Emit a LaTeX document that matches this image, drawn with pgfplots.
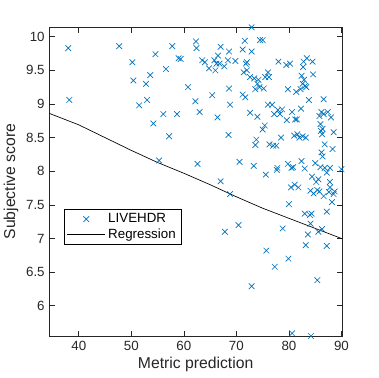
\documentclass[border=0pt]{standalone}
\usepackage{pgfplots}
\pgfplotsset{compat=1.18}
\usepackage{fontspec}
\setmainfont{Liberation Sans}
\definecolor{mblue}{rgb}{0,0.447,0.741}
\definecolor{axgray}{rgb}{0.15,0.15,0.15}
\begin{document}
\begin{tikzpicture}
\path[use as bounding box] (-37pt,-31.5pt) rectangle (246.5pt,252pt);
\begin{axis}[
  at={(0,0)}, anchor=south west,
  scale only axis, width=219.5pt, height=231.5pt,
  xmin=34.4, xmax=90.1, ymin=5.55, ymax=10.14,
  xtick={40,50,...,90},
  ytick={6,6.5,...,10},
  tick align=inside, tick pos=both,
  major tick length=4pt,
  axis line style={axgray, line width=0.5pt},
  tick style={axgray, line width=0.5pt},
  every tick label/.append style={font=\fontsize{10}{12}\selectfont, text=axgray},
  /pgf/number format/assume math mode=true,
  xlabel={Metric prediction}, ylabel={Subjective score},
  label style={font=\fontsize{11.8}{13}\selectfont, text=axgray},
  xlabel style={yshift=2pt},
  ylabel style={yshift=-1pt},
  legend style={at={(0.05,0.411)}, anchor=north west, draw=black, line width=0.5pt,
    font=\fontsize{10}{11}\selectfont, inner xsep=2pt, inner ysep=1pt, row sep=-1pt},
  legend cell align=left,
  legend image code/.code={\draw[mark repeat=2,mark phase=2,#1] plot coordinates {(0cm,0cm) (0.5cm,0cm) (1cm,0cm)};},
]
\addplot[only marks, mark=x, mark size=3pt, color=mblue, line width=0.5pt] coordinates {
(38,9.83) (38.2,9.06) (47.7,9.86) (50.2,9.62) (50.4,9.35) (51.5,8.98) (52.8,9.30)
(53.0,9.06) (53.6,9.43) (54.2,8.71) (54.6,9.74) (55.3,8.16) (56.1,8.85) (56.6,9.52)
(57.2,8.52) (57.8,9.86) (58.7,8.85) (59.0,9.68) (59.4,9.67) (60.8,9.25) (62.2,9.04)
(62.3,9.93) (62.4,9.83) (62.6,8.11) (63.0,8.88) (63.5,9.65) (64.0,9.62) (64.8,9.53)
(65.4,9.13) (65.8,9.65) (66.0,9.50) (66.2,9.60) (66.4,8.80) (66.5,9.72) (66.8,9.60)
(67.0,9.85) (67.0,7.85) (67.7,9.56) (67.8,7.10) (68.4,9.65) (68.5,8.54) (68.6,9.78)
(68.6,9.23) (68.8,8.99) (68.8,7.66) (69.8,9.64) (70.4,7.20) (70.6,8.14) (71.2,9.14)
(71.2,9.81) (71.4,9.47) (71.6,9.94) (71.7,9.10) (71.8,9.60) (72.0,9.62) (72.0,9.50)
(72.6,9.40) (72.6,8.87) (72.9,10.14) (72.9,9.78) (72.9,6.29) (73.3,8.08) (73.4,9.38)
(73.6,9.22) (73.6,8.39) (73.8,8.47) (74.0,9.30) (74.0,8.81) (74.2,9.36) (74.4,9.25)
(74.5,9.95) (75.0,9.95) (75.0,8.62) (75.2,9.23) (75.4,8.68) (75.5,9.40) (75.6,7.95)
(75.7,6.82) (76.0,9.47) (76.0,8.99) (76.2,9.40) (76.3,8.40) (76.8,8.99) (77.0,8.38)
(77.2,8.85) (77.3,6.58) (77.6,8.38) (77.7,8.02) (77.8,8.05) (77.9,8.91) (78.0,9.63)
(78.3,8.85) (78.5,8.50) (78.7,8.92) (78.8,7.15) (79.5,9.58) (79.6,8.76) (79.8,9.22)
(79.8,8.11) (79.9,6.70) (80.0,7.51) (80.2,9.60) (80.4,7.76) (80.5,8.05) (80.6,8.88)
(80.6,5.59) (80.8,8.06) (81.0,8.53) (81.1,7.80) (81.2,8.77) (81.4,9.18) (81.5,8.77)
(81.6,8.55) (81.8,7.76) (82.0,8.50) (82.2,9.22) (82.3,8.93) (82.4,8.15) (82.4,9.42)
(82.6,8.52) (82.6,9.30) (82.7,9.55) (82.8,9.63) (82.9,9.36) (83.0,8.04) (83.0,7.37)
(83.1,9.27) (83.2,8.50) (83.2,6.90) (83.3,9.25) (83.4,9.68) (83.6,7.06) (83.8,9.06)
(84.0,7.35) (84.1,7.71) (84.1,7.22) (84.2,5.55) (84.3,7.37) (84.4,7.92) (84.5,9.63)
(84.6,9.44) (84.7,7.67) (85.0,8.12) (85.2,7.84) (85.4,7.72) (85.4,6.38) (85.6,7.10)
(85.6,7.88) (85.8,8.82) (85.8,7.70) (86.0,8.70) (86.0,8.06) (86.1,8.60) (86.2,8.28)
(86.2,8.88) (86.3,7.14) (86.3,8.55) (86.4,8.22) (86.4,8.63) (86.6,9.07) (86.6,7.63)
(86.6,8.85) (86.8,8.40) (86.8,8.05) (87.2,7.40) (87.2,6.89) (87.2,7.98) (87.4,8.88)
(87.6,7.69) (87.8,8.05) (87.8,7.84) (87.8,7.76) (88.0,8.80) (88.2,7.54) (88.3,8.33)
(88.5,8.58) (88.5,7.66) (88.7,7.70) (90.0,8.03)
};
\addlegendentry{LIVEHDR}
\addplot[black, line width=0.5pt, mark=none] coordinates {
(34.4,8.86) (40,8.69) (45,8.50) (50,8.31) (55,8.13) (60,7.97) (65,7.80)
(70,7.62) (75,7.45) (80,7.30) (85,7.15) (90,7.00) (90.1,7.00)
};
\addlegendentry{Regression}
\end{axis}
\end{tikzpicture}
\end{document}
